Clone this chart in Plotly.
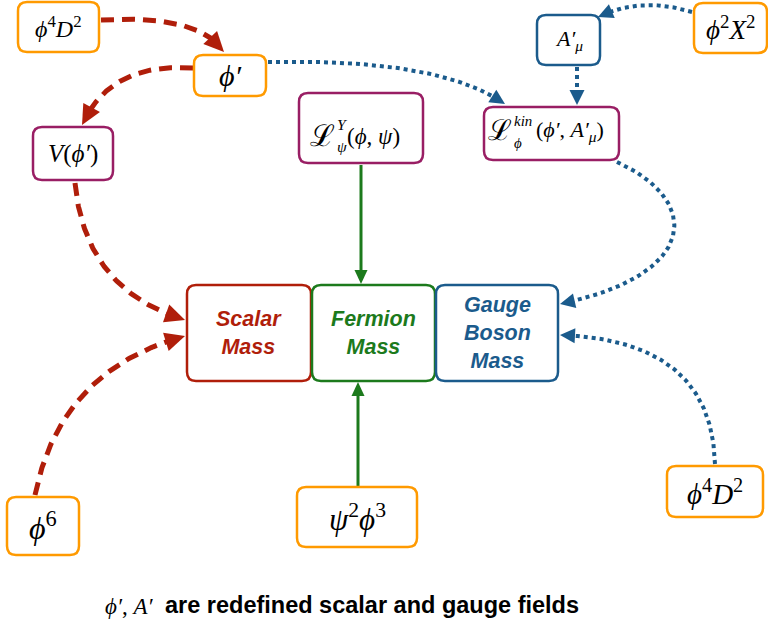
import numpy as np
import plotly.graph_objects as go

# ---------------- data ----------------
node_ids = ["phi4D2_top", "phi_p", "V", "LY", "Amu", "phi2X2", "Lkin",
            "scalar", "fermion", "gauge", "phi6", "psi2phi3", "phi4D2_bot"]
node_labels = [
    "<i>ϕ</i><sup>4</sup><i>D</i><sup>2</sup>",
    "<i>ϕ′</i>",
    "<i>V</i>(<i>ϕ′</i>)",
    None,  # composite label, pieces below
    "<i>A′</i><sub><i>μ</i></sub>",
    "<i>ϕ</i><sup>2</sup><i>X</i><sup>2</sup>",
    None,  # composite label, pieces below
    "<b><i>Scalar<br>Mass</i></b>",
    "<b><i>Fermion<br>Mass</i></b>",
    "<b><i>Gauge<br>Boson<br>Mass</i></b>",
    "<i>ϕ</i><sup>6</sup>",
    "<i>ψ</i><sup>2</sup><i>ϕ</i><sup>3</sup>",
    "<i>ϕ</i><sup>4</sup><i>D</i><sup>2</sup>",
]
# composite labels: base symbol, superscript, subscript, arguments
LY_pieces = ["ℒ", "<i>Y</i>", "<i>ψ</i>", "(<i>ϕ</i>, <i>ψ</i>)"]
Lkin_pieces = ["ℒ", "<i>kin</i>", "<i>ϕ</i>", "(<i>ϕ′</i>, <i>A′</i><sub><i>μ</i></sub>)"]
node_kind = ["op", "field", "lag", "lag", "gfield", "op", "lag",
             "scalar", "fermion", "gauge", "op", "op", "op"]
edge_from = ["phi4D2_top", "phi_p", "V", "phi6", "phi_p", "phi2X2", "Amu",
             "Lkin", "phi4D2_bot", "LY", "psi2phi3"]
edge_to = ["phi_p", "V", "scalar", "scalar", "Lkin", "Amu", "Lkin",
           "gauge", "gauge", "fermion", "fermion"]
edge_kind = ["scalar", "scalar", "scalar", "scalar", "gauge", "gauge", "gauge",
             "gauge", "gauge", "fermion", "fermion"]
caption_math = "<i>ϕ′</i>, <i>A′</i>"
caption_text = "<b>are redefined scalar and gauge fields</b>"

# ---------------- layout (pixel geometry) ----------------
W, H = 768, 621
box = {
    "phi4D2_top": (18, 2, 99, 52),
    "phi_p": (194, 55, 266, 96),
    "V": (33, 127, 113, 180),
    "LY": (299, 93, 423, 163),
    "Amu": (537, 15, 600, 65),
    "phi2X2": (694, 3, 767, 53),
    "Lkin": (484, 107, 619, 160),
    "scalar": (187, 285, 311, 381),
    "fermion": (312, 285, 435, 381),
    "gauge": (436, 285, 558, 381),
    "phi6": (7, 497, 79, 555),
    "psi2phi3": (297, 487, 417, 547),
    "phi4D2_bot": (667, 466, 763, 517),
}
font_size = {"phi4D2_top": 24, "phi_p": 30, "V": 25, "LY": 23, "Amu": 22,
             "phi2X2": 27, "Lkin": 22, "scalar": 21.5, "fermion": 21.5, "gauge": 21.5,
             "phi6": 32, "psi2phi3": 31, "phi4D2_bot": 29}
# composite label placement: (x_split, y_main, y_sup, y_sub, x_args)
piece_pos = {"LY": (335, 135, 124, 146, 345), "Lkin": (512, 130, 121, 143, 534)}
# edge geometry: control points (start, c1, [c2], end)
edge_path = [
    [(101, 20), (200, 14), (224, 52)],
    [(193, 68), (110, 62), (82, 125)],
    [(75, 183), (85, 290), (185, 320)],
    [(35, 495), (60, 370), (185, 336)],
    [(268, 62), (440, 58), (505, 104)],
    [(692, 12), (640, -4), (598, 17)],
    [(577, 67), (577, 86), (577, 105)],
    [(617, 162), (702, 200), (700, 275), (560, 304)],
    [(715, 464), (712, 340), (560, 335)],
    [(361, 165), (361, 230), (361, 284)],
    [(358, 486), (358, 430), (358, 382)],
]

RED = "#B01E0A"
GREEN = "#1C7A1C"
BLUE = "#1B5B8C"
ORANGE = "#FF9A00"
PURPLE = "#991E64"
box_color = {"op": ORANGE, "field": ORANGE, "lag": PURPLE, "gfield": BLUE,
             "scalar": RED, "fermion": GREEN, "gauge": BLUE}
text_color = {"scalar": RED, "fermion": GREEN, "gauge": BLUE}
edge_style = {
    "scalar": dict(color=RED, width=5, dash="13px,8px", head=(20, 19)),
    "gauge": dict(color=BLUE, width=4, dash="4px,4px", head=(15, 15)),
    "fermion": dict(color=GREEN, width=3, dash="solid", head=(14, 13)),
}
SERIF = "Liberation Serif, DejaVu Serif"
SANS = "Liberation Sans, Arial"


def rounded_rect(x0, y0, x1, y1, r=9):
    return (f"M {x0+r},{y0} L {x1-r},{y0} Q {x1},{y0} {x1},{y0+r} "
            f"L {x1},{y1-r} Q {x1},{y1} {x1-r},{y1} L {x0+r},{y1} "
            f"Q {x0},{y1} {x0},{y1-r} L {x0},{y0+r} Q {x0},{y0} {x0+r},{y0} Z")


def bezier(pts, n=120):
    t = np.linspace(0, 1, n)[:, None]
    p = np.array(pts, dtype=float)
    if len(p) == 3:
        return (1-t)**2*p[0] + 2*(1-t)*t*p[1] + t**2*p[2]
    return (1-t)**3*p[0] + 3*(1-t)**2*t*p[1] + 3*(1-t)*t**2*p[2] + t**3*p[3]


fig = go.Figure()
shapes = []

for pts, kind in zip(edge_path, edge_kind):
    st = edge_style[kind]
    curve = bezier(pts)
    tip = curve[-1]
    hl, hw = st["head"]
    d = np.hypot(*(curve - tip).T)
    idx = np.argmax(d <= hl)
    base = curve[idx]
    v = tip - base
    v = v / np.hypot(*v)
    base = tip - v * hl
    nrm = np.array([-v[1], v[0]])
    line_pts = curve[:idx+1]
    line_pts = np.vstack([line_pts, base + v * 2])
    fig.add_trace(go.Scatter(x=line_pts[:, 0], y=line_pts[:, 1], mode="lines",
                             line=dict(color=st["color"], width=st["width"], dash=st["dash"]),
                             hoverinfo="skip", showlegend=False))
    a = base + nrm * hw / 2
    b = base - nrm * hw / 2
    shapes.append(dict(type="path", xref="x", yref="y",
                       path=f"M {tip[0]},{tip[1]} L {a[0]},{a[1]} L {b[0]},{b[1]} Z",
                       fillcolor=st["color"], line=dict(width=0)))

annotations = []


def add_text(x, y, text, size, family, color="black", xanchor="center"):
    annotations.append(dict(x=x, y=y, xref="x", yref="y", text=text, showarrow=False,
                            font=dict(family=family, size=size, color=color),
                            xanchor=xanchor, yanchor="middle"))


composite = {"LY": LY_pieces, "Lkin": Lkin_pieces}
for nid, lab, kind in zip(node_ids, node_labels, node_kind):
    x0, y0, x1, y1 = box[nid]
    shapes.append(dict(type="path", xref="x", yref="y", path=rounded_rect(x0, y0, x1, y1),
                       fillcolor="white", line=dict(color=box_color[kind], width=2.5)))
    fs = font_size[nid]
    if nid in composite:
        base_sym, sup, sub, args = composite[nid]
        xs, ym, ysup, ysub, xa = piece_pos[nid]
        add_text(xs + 2, ym, base_sym, fs * 1.3, SERIF, xanchor="right")
        add_text(xs, ysup, sup, fs * 0.68, SERIF, xanchor="left")
        add_text(xs, ysub, sub, fs * 0.68, SERIF, xanchor="left")
        add_text(xa, ym + 1, args, fs, SERIF, xanchor="left")
    elif kind in text_color:
        add_text((x0+x1)/2, (y0+y1)/2, lab, fs, SANS, color=text_color[kind])
    else:
        add_text((x0+x1)/2, (y0+y1)/2, lab, fs, SERIF)

add_text(155, 606, caption_math, 23, SERIF, xanchor="right")
add_text(163, 605, caption_text, 23.5, SANS, xanchor="left")

fig.update_layout(
    width=W, height=H, margin=dict(l=0, r=0, t=0, b=0),
    plot_bgcolor="white", paper_bgcolor="white",
    xaxis=dict(range=[0, W], visible=False, fixedrange=True),
    yaxis=dict(range=[H, 0], visible=False, fixedrange=True),
    shapes=shapes, annotations=annotations,
)
fig.write_html("out.html", config={"displayModeBar": False},
               post_script="document.body.style.margin='0';document.body.style.overflow='hidden';")
